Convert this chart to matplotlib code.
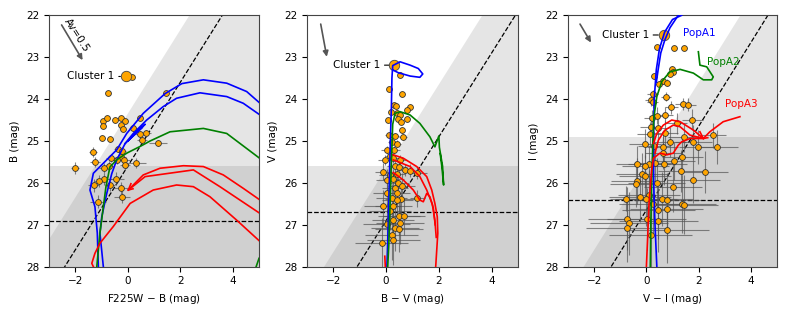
import numpy as np
import matplotlib
matplotlib.use("Agg")
import matplotlib.pyplot as plt

plt.rcParams['font.family'] = ['DejaVu Sans']
plt.rcParams['font.size'] = 7.5

# ---------------- panel 1 : F225W-B vs B ----------------
p1_col = [-0.77, 1.46, -0.96, -0.78, -0.94, -0.49, -0.26, -0.10, -0.27, -0.19, 0.19, 0.45, 0.46, 0.68,
          -0.98, -0.68, 0.54, 1.15, -0.37, -0.21, -0.27, -0.64, -0.41, -0.13, -1.31, -1.25, -2.0, -0.71,
          -0.90, -0.10, 0.33, -0.45, -0.90, -1.08, -1.30, -0.27, -0.68, -0.21, -1.12, 0.15]
p1_mag = [23.86, 23.86, 24.53, 24.45, 24.64, 24.51, 24.45, 24.53, 24.62, 24.72, 24.69, 24.46, 24.84, 24.82,
          24.94, 24.96, 24.98, 25.05, 25.19, 25.25, 25.37, 25.40, 25.45, 25.45, 25.26, 25.51, 25.64, 25.59,
          25.65, 25.57, 25.53, 25.90, 25.91, 25.95, 26.06, 26.12, 26.05, 26.33, 26.45, 23.48]
p1_xerr = [0.05, 0.1, 0.1, 0.1, 0.1, 0.1, 0.1, 0.1, 0.1, 0.1, 0.15, 0.1, 0.25, 0.2,
           0.1, 0.1, 0.2, 0.35, 0.15, 0.15, 0.2, 0.2, 0.2, 0.2, 0.15, 0.2, 0.15, 0.2,
           0.2, 0.2, 0.35, 0.3, 0.3, 0.2, 0.2, 0.3, 0.2, 0.3, 0.3, 0.05]
p1_yerr = [0.03, 0.03, 0.05, 0.05, 0.05, 0.05, 0.05, 0.05, 0.05, 0.05, 0.06, 0.05, 0.08, 0.08,
           0.06, 0.06, 0.08, 0.08, 0.08, 0.08, 0.1, 0.1, 0.1, 0.1, 0.12, 0.12, 0.15, 0.12,
           0.12, 0.12, 0.12, 0.15, 0.15, 0.15, 0.15, 0.15, 0.15, 0.15, 0.15, 0.03]
p1_cluster = (-0.07, 23.46)

p1_blue_a = [(-1.12, 28.0), (-1.16, 27.2), (-1.25, 26.57), (-1.44, 26.17), (-1.31, 25.77), (-0.42, 25.21),
             (-0.04, 24.82), (0.59, 24.34), (1.42, 23.87), (2.06, 23.63), (2.88, 23.54), (3.77, 23.62),
             (4.53, 23.82), (5.04, 24.10)]
p1_blue_b = [(-0.93, 28.0), (-1.06, 27.2), (-0.99, 26.81), (-0.80, 26.25), (-0.61, 25.78), (-0.42, 25.45),
             (-0.10, 25.06), (0.21, 24.82), (0.72, 24.50), (1.35, 24.18), (1.86, 23.98), (2.75, 23.85),
             (3.77, 23.94), (4.40, 24.10), (5.04, 24.38)]
p1_blue_hook = [(-0.10, 25.06), (0.66, 24.60), (0.0, 25.0), (0.55, 24.68)]
p1_green = [(-1.18, 28.0), (-1.06, 27.2), (-0.93, 26.57), (-0.83, 26.09), (-0.68, 25.62), (-0.42, 25.45),
            (-0.04, 25.29), (0.47, 25.13), (0.85, 25.0), (1.61, 24.78), (2.88, 24.70), (3.77, 24.82),
            (5.04, 25.42)]
p1_green_b = [(4.89, 28.0), (5.0, 27.8)]
p1_red_a = [(0.02, 26.17), (0.59, 25.81), (1.23, 25.65), (2.12, 25.59), (2.88, 25.61), (3.64, 25.81),
            (4.40, 26.13), (5.04, 26.41)]
p1_red_b = [(0.02, 26.17), (0.66, 25.85), (2.50, 25.69), (3.51, 26.09), (5.04, 26.73)]
p1_red_c = [(-1.31, 28.0), (-1.37, 27.92), (-1.25, 27.68), (-1.06, 27.44), (-0.55, 27.04), (0.09, 26.49),
            (0.97, 26.17), (1.86, 26.05), (2.50, 26.09), (3.13, 26.33), (4.15, 26.89), (5.04, 27.40)]
p1_red_tip = [(0.12, 26.02), (0.02, 26.17), (0.2, 26.14)]

# ---------------- panel 2 : B-V vs V ----------------
p2_col = [0.12, 0.61, 0.28, 0.39, 0.91, 0.78, 0.19, 0.40, 0.53, 0.08, 0.78, 0.46, 0.55, 0.59, 0.12, 0.33,
          0.65, 0.21, 0.40, 0.02, 0.31, 0.14, 0.27, -0.04, 0.53, 0.33, 0.49, 0.72, 0.91, -0.13, 1.19, 0.14,
          0.40, 0.02, 0.27, 0.46, 0.59, 0.33, 0.02, 0.40, 0.21, 1.19, 0.57, 0.43, -0.13, 0.27, 0.14, 0.49,
          0.68, 0.27, 0.53, 0.02, 0.33, 0.49, 0.21, 0.27, -0.17, 0.53]
p2_mag = [23.76, 23.88, 24.14, 24.16, 24.19, 24.26, 24.30, 24.32, 24.38, 24.50, 24.48, 24.48, 24.54, 24.74,
          24.86, 24.88, 24.91, 25.02, 25.06, 25.21, 25.21, 25.36, 25.41, 25.45, 25.45, 25.59, 25.63, 25.69,
          25.71, 25.73, 25.76, 25.81, 25.79, 25.93, 25.91, 26.01, 26.07, 26.13, 26.25, 26.23, 26.37, 26.37,
          26.39, 26.42, 26.56, 26.56, 26.68, 26.80, 26.80, 26.88, 26.96, 26.98, 27.08, 27.11, 27.24, 27.36,
          27.44, 23.42]
p2_xerr = [0.05, 0.05, 0.08, 0.08, 0.08, 0.08, 0.08, 0.08, 0.08, 0.1, 0.1, 0.1, 0.1, 0.1, 0.15, 0.15,
           0.15, 0.15, 0.15, 0.2, 0.2, 0.2, 0.2, 0.25, 0.25, 0.3, 0.3, 0.3, 0.3, 0.3, 0.35, 0.4,
           0.3, 0.4, 0.4, 0.4, 0.5, 0.5, 0.5, 0.5, 0.6, 0.3, 0.6, 0.6, 0.7, 0.7, 0.8, 0.8,
           0.8, 0.8, 0.9, 0.9, 0.9, 0.9, 1.0, 1.0, 1.0, 0.05]
p2_yerr = [0.03, 0.03, 0.04, 0.04, 0.04, 0.04, 0.04, 0.04, 0.05, 0.05, 0.05, 0.05, 0.05, 0.06, 0.06, 0.06,
           0.06, 0.08, 0.08, 0.1, 0.1, 0.1, 0.12, 0.12, 0.12, 0.15, 0.15, 0.15, 0.15, 0.2, 0.15, 0.2,
           0.2, 0.25, 0.25, 0.25, 0.3, 0.3, 0.3, 0.3, 0.35, 0.2, 0.35, 0.35, 0.4, 0.4, 0.45, 0.45,
           0.45, 0.5, 0.5, 0.5, 0.55, 0.55, 0.6, 0.6, 0.6, 0.03]
p2_cluster = (0.31, 23.19)

p2_blue = [(0.03, 28.0), (0.08, 27.0), (0.12, 26.0), (0.16, 25.0), (0.20, 24.2), (0.22, 23.5), (0.25, 23.2),
           (0.53, 23.11), (0.91, 23.19), (1.22, 23.27), (1.39, 23.40), (1.28, 23.48), (0.91, 23.45),
           (0.46, 23.37), (0.27, 23.31)]
p2_green = [(0.06, 28.0), (0.10, 27.5), (0.15, 26.5), (0.20, 25.5), (0.25, 24.6), (0.34, 24.34), (0.53, 24.30),
            (0.91, 24.38), (1.28, 24.58), (1.66, 24.90), (1.85, 25.14), (2.0, 24.88), (2.02, 25.15),
            (2.14, 25.6), (2.18, 26.05), (2.12, 25.65), (2.05, 25.3)]
p2_red_a = [(0.27, 25.33), (0.65, 25.41), (1.16, 25.61), (1.54, 25.85), (1.73, 26.17), (1.85, 26.49),
            (1.94, 26.81), (1.96, 27.2), (1.88, 28.0)]
p2_red_b = [(0.27, 25.45), (0.91, 25.61), (1.28, 25.85), (1.54, 26.17), (1.62, 26.30), (1.75, 26.50),
            (1.85, 26.90), (1.90, 27.30)]
p2_red_c = [(0.27, 25.75), (0.65, 25.93), (1.03, 26.17), (1.28, 26.41), (1.41, 26.45), (1.54, 26.25),
            (1.66, 26.33), (1.79, 26.60), (1.86, 27.0)]
p2_red_d = [(-0.05, 27.75), (-0.03, 28.0)]

# ---------------- panel 3 : V-I vs I ----------------
p3_col = [0.39, 1.06, 1.44, 0.29, 0.97, 1.03, 0.90, 0.62, 0.78, 0.50, 0.24, 0.75, 0.16, 0.24, 0.96, 1.39,
          1.59, 0.71, 0.39, 0.20, 1.16, 1.75, 0.16, 0.46, 0.14, 0.71, -0.05, 0.29, 0.62, 0.90, 1.44, 1.80,
          1.96, 2.54, 2.72, 0.65, 1.06, 1.38, 0.33, 0.11, -0.35, -0.05, 0.67, 1.33, 2.24, -0.15, -0.05,
          -0.37, -0.40, 1.80, 1.01, 0.39, 0.10, -0.24, -0.79, -0.01, 0.59, 0.78, 0.27, 1.35, 1.44, 0.46,
          0.78, -0.73, 0.01, 0.46, -0.66, -0.73, 0.78, 0.16]
p3_mag = [22.75, 22.79, 22.77, 23.45, 23.27, 23.35, 23.40, 23.57, 23.61, 23.65, 23.89, 23.94, 24.01, 24.07,
          24.20, 24.12, 24.13, 24.38, 24.40, 24.46, 24.58, 24.49, 24.66, 24.70, 24.84, 24.82, 25.06, 25.11,
          25.14, 25.02, 24.91, 25.02, 25.14, 24.86, 25.14, 25.28, 25.47, 25.37, 25.52, 25.56, 25.56, 25.60,
          25.56, 25.71, 25.73, 25.79, 25.84, 25.96, 26.03, 25.93, 26.09, 26.01, 26.29, 26.33, 26.38, 26.39,
          26.39, 26.42, 26.50, 26.50, 26.52, 26.65, 26.63, 26.85, 26.86, 26.90, 26.96, 27.08, 27.12, 27.24]
p3_xerr = [0.05, 0.08, 0.08, 0.1, 0.1, 0.1, 0.1, 0.1, 0.12, 0.12, 0.2, 0.2, 0.2, 0.2, 0.25, 0.3,
           0.3, 0.3, 0.3, 0.3, 0.4, 0.4, 0.4, 0.4, 0.5, 0.5, 0.6, 0.6, 0.6, 0.6, 0.6, 0.7,
           0.7, 0.5, 0.8, 0.7, 0.8, 0.8, 0.8, 0.8, 0.8, 0.9, 0.9, 0.9, 0.9, 1.0, 1.0,
           1.0, 1.0, 1.0, 1.1, 1.1, 1.2, 1.2, 0.6, 1.2, 1.2, 1.3, 1.3, 1.3, 1.3, 1.4,
           1.4, 1.5, 1.5, 1.5, 1.5, 1.6, 1.6, 1.6]
p3_yerr = [0.03, 0.04, 0.04, 0.06, 0.06, 0.06, 0.06, 0.08, 0.08, 0.08, 0.1, 0.1, 0.15, 0.15, 0.15, 0.15,
           0.15, 0.2, 0.2, 0.2, 0.25, 0.25, 0.25, 0.25, 0.3, 0.3, 0.35, 0.35, 0.35, 0.35, 0.35, 0.4,
           0.4, 0.3, 0.4, 0.4, 0.45, 0.45, 0.45, 0.45, 0.45, 0.5, 0.5, 0.5, 0.5, 0.5, 0.5,
           0.55, 0.55, 0.55, 0.6, 0.6, 0.6, 0.6, 0.3, 0.65, 0.65, 0.65, 0.7, 0.7, 0.7, 0.7,
           0.7, 0.75, 0.75, 0.75, 0.75, 0.8, 0.8, 0.8]
p3_cluster = (0.67, 22.47)

p3_blue_a = [(1.35, 22.0), (1.0, 22.1), (0.7, 22.4), (0.5, 22.8), (0.38, 23.3), (0.30, 24.0), (0.27, 25.0),
             (0.28, 26.0), (0.33, 27.0), (0.40, 28.0)]
p3_blue_b = [(1.22, 22.0), (0.9, 22.3), (0.7, 22.6), (0.55, 22.9), (0.45, 23.3), (0.38, 23.6)]
p3_green = [(1.99, 22.87), (2.05, 23.19), (2.31, 23.23), (2.56, 23.47), (2.50, 23.54), (2.18, 23.54),
            (1.80, 23.38), (1.29, 23.29), (0.90, 23.35), (0.59, 23.58), (0.40, 23.94), (0.29, 24.42),
            (0.25, 25.0), (0.20, 26.0), (0.17, 27.0), (0.15, 28.0)]
p3_red_a = [(3.58, 24.42), (2.94, 24.54), (2.43, 24.78), (2.18, 24.94), (1.80, 24.74), (1.29, 24.54),
            (0.97, 24.50), (0.65, 24.62), (0.40, 24.82), (0.27, 25.06)]
p3_red_b = [(2.18, 24.94), (1.67, 24.86), (1.29, 24.66), (1.03, 24.62), (0.71, 24.74), (0.46, 24.98),
            (0.33, 25.29)]
p3_red_c = [(2.18, 24.94), (1.67, 24.94), (1.35, 25.02), (1.22, 25.10), (1.03, 25.29), (0.78, 25.33),
            (0.52, 25.29), (0.27, 25.41), (0.20, 25.69), (0.10, 26.5), (0.05, 27.3), (0.0, 28.0)]
p3_red_tip = [(2.05, 24.78), (2.18, 24.94), (2.35, 24.92)]

# limits: diagonal (blue-band limit) for shading, diagonal dashed, horizontal shading, horizontal dashed
panels = [
    dict(col=p1_col, mag=p1_mag, xerr=p1_xerr, yerr=p1_yerr, cl=p1_cluster,
         blue=[p1_blue_a, p1_blue_b, p1_blue_hook], green=[p1_green, p1_green_b],
         red=[p1_red_a, p1_red_b, p1_red_c, p1_red_tip],
         diag=24.35, diag_dash=25.6, hshade=25.6, hdash=26.9,
         xlabel='F225W $-$ B (mag)', ylabel='B (mag)',
         av=((-2.52, 22.23), (-1.72, 23.07)), text_x=-0.5),
    dict(col=p2_col, mag=p2_mag, xerr=p2_xerr, yerr=p2_yerr, cl=p2_cluster,
         blue=[p2_blue], green=[p2_green], red=[p2_red_a, p2_red_b, p2_red_c, p2_red_d],
         diag=25.65, diag_dash=26.9, hshade=25.6, hdash=26.7,
         xlabel='B $-$ V (mag)', ylabel='V (mag)',
         av=((-2.48, 22.21), (-2.25, 22.99)), text_x=-0.22),
    dict(col=p3_col, mag=p3_mag, xerr=p3_xerr, yerr=p3_yerr, cl=p3_cluster,
         blue=[p3_blue_a, p3_blue_b], green=[p3_green],
         red=[p3_red_a, p3_red_b, p3_red_c, p3_red_tip],
         diag=25.6, diag_dash=26.65, hshade=24.9, hdash=26.4,
         xlabel='V $-$ I (mag)', ylabel='I (mag)',
         av=((-2.54, 22.21), (-2.12, 22.65)), text_x=0.1),
]

fig = plt.figure(figsize=(7.89, 3.16), dpi=100)
lefts = [0.0621, 0.3891, 0.7199]
widths = [0.2662, 0.2674, 0.2649]

xx = np.linspace(-3, 5, 50)
for i, p in enumerate(panels):
    ax = fig.add_axes([lefts[i], 0.156, widths[i], 0.7956])
    ax.fill_between(xx, p['diag'] - xx, 30, color='gray', alpha=0.2, lw=0, zorder=0)
    ax.axhspan(p['hshade'], 30, color='gray', alpha=0.2, lw=0, zorder=0)
    ax.plot(xx, p['diag_dash'] - xx, 'k--', lw=0.9, zorder=1)
    ax.axhline(p['hdash'], color='k', ls='--', lw=0.9, zorder=1)

    ax.errorbar(p['col'], p['mag'], xerr=p['xerr'], yerr=p['yerr'], fmt='none',
                ecolor='#555555', elinewidth=0.8, alpha=0.7, zorder=2)
    ax.plot(p['col'], p['mag'], 'o', ms=4.2, mfc='orange', mec='#333333', mew=0.6, zorder=3)
    ax.plot(p['cl'][0], p['cl'][1], 'o', ms=7.5, mfc='orange', mec='#444444', mew=0.6, zorder=3)

    for line in p['blue']:
        c, m = zip(*line)
        ax.plot(c, m, color='blue', lw=1.2, zorder=4)
    for line in p['green']:
        c, m = zip(*line)
        ax.plot(c, m, color='green', lw=1.2, zorder=4)
    for line in p['red']:
        c, m = zip(*line)
        ax.plot(c, m, color='red', lw=1.2, zorder=4)

    ax.annotate('Cluster 1', xy=p['cl'], xytext=(p['text_x'], p['cl'][1]), ha='right', va='center',
                arrowprops=dict(arrowstyle='-', color='k', lw=0.8, shrinkA=1, shrinkB=4), zorder=5)
    ax.annotate('', xy=p['av'][1], xytext=p['av'][0],
                arrowprops=dict(arrowstyle='-|>', color='#555555', lw=1.2, mutation_scale=8,
                                shrinkA=0, shrinkB=0))

    ax.set_xlim(-3, 5)
    ax.set_ylim(28, 22)
    ax.set_xticks([-2, 0, 2, 4])
    ax.set_yticks([22, 23, 24, 25, 26, 27, 28])
    ax.set_xlabel(p['xlabel'])
    ax.set_ylabel(p['ylabel'])
    for s in ax.spines.values():
        s.set_color('#444444')
    if i == 0:
        ax.text(-1.93, 22.47, 'Av=0.5', rotation=-57, ha='center', va='center', rotation_mode='anchor')
    if i == 2:
        ax.text(1.41, 22.43, 'PopA1', color='blue', va='center')
        ax.text(2.31, 23.11, 'PopA2', color='green', va='center')
        ax.text(3.01, 24.12, 'PopA3', color='red', va='center')

fig.savefig('out.png', dpi=100)
